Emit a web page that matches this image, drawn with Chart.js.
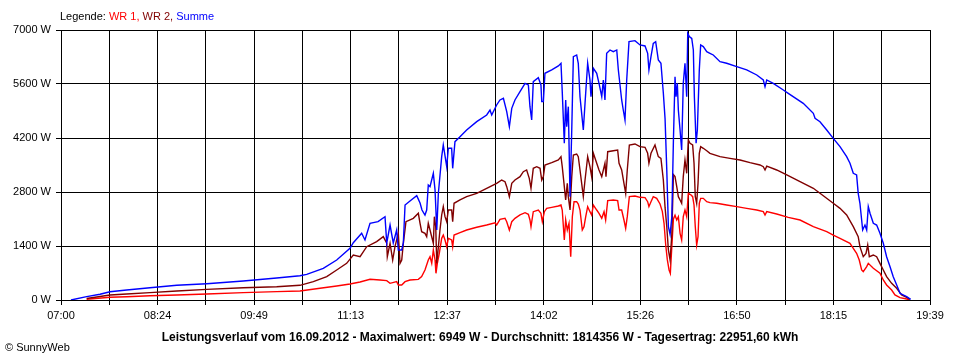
<!DOCTYPE html>
<html>
<head>
<meta charset="utf-8">
<script src="https://cdn.jsdelivr.net/npm/chart.js@4.4.0/dist/chart.umd.min.js"></script>
<style>
  html, body { margin: 0; padding: 0; background: #fff; }
  #wrap { position: relative; width: 960px; height: 360px; font-family: "Liberation Sans", Arial, sans-serif; }
  #c { position: absolute; left: 0; top: 0; }
  #legend { position: absolute; left: 60px; top: 10px; font-size: 11px; color: #000; white-space: nowrap; }
  #title { position: absolute; left: 0; width: 960px; top: 330px; text-align: center; font-size: 12px; font-weight: bold; color: #000; white-space: nowrap; }
  #copy { position: absolute; left: 5px; top: 341px; font-size: 11px; color: #000; white-space: nowrap; }
</style>
</head>
<body>
<div id="wrap">
  <canvas id="c" width="960" height="360"></canvas>
  <div id="legend">Legende: <span style="color:#ff0000">WR 1,</span> <span style="color:#800000">WR 2,</span> <span style="color:#0000ff">Summe</span></div>
  <div id="title">Leistungsverlauf vom 16.09.2012 - Maximalwert: 6949 W - Durchschnitt: 1814356 W - Tagesertrag: 22951,60 kWh</div>
  <div id="copy">© SunnyWeb</div>
</div>
<script>
// time axis: minutes after 07:00
const timeLabels = ["07:00","08:24","09:49","11:13","12:37","14:02","15:26","16:50","18:15","19:39"];
const yTicks = [0, 1400, 2800, 4200, 5600, 7000];

const wr1Min = [22.4,42.8,57.4,77.7,101.1,127.3,159.2,188.4,208.7,226.2,240.8,252.4,261.2,269.9,278.6,284.5,287.4,293.2,294.6,297.6,300.5,304.8,312.1,315.0,317.9,320.8,322.3,323.8,325.2,326.7,327.5,328.7,330.4,332.5,333.9,335.4,336.9,338.3,341.2,342.1,343.3,348.5,354.3,363.1,371.8,379.1,380.5,383.4,387.8,389.3,391.6,393.7,396.5,400.9,405.3,408.2,409.6,410.5,412.5,416.9,419.2,420.4,422.2,424.2,428.6,434.4,436.7,437.8,439.6,440.8,442.2,443.7,445.2,446.6,448.1,450.4,451.8,453.3,455.3,456.8,458.3,460.0,462.0,463.5,465.0,467.9,469.9,472.3,474.3,475.7,477.5,482.4,486.2,487.4,489.7,491.7,493.2,494.6,496.4,501.3,505.7,510.1,512.4,513.5,515.3,517.3,520.3,523.2,525.2,526.7,528.2,529.6,531.1,532.2,533.5,534.9,536.3,537.8,539.2,540.7,542.1,543.5,545.0,546.5,547.9,550.3,551.7,552.9,554.0,555.2,556.4,557.5,558.7,561.0,564.0,566.8,572.7,581.4,590.2,598.9,607.7,613.4,614.9,616.4,625.1,635.2,645.5,657.1,668.8,674.5,680.4,689.1,692.0,694.9,697.2,699.3,700.7,703.7,705.1,709.5,715.3,718.2,721.1,725.5,728.4,732.8,738.6,740.9];
const wr1 = [20,70,86,112,130,156,190,216,233,303,363,415,467,536,519,501,432,475,389,389,475,519,536,605,778,1037,1123,951,1296,1037,692,951,1210,1599,1685,1556,1382,1599,1556,1382,1685,1745,1815,1885,1944,2004,1944,2092,2118,2030,1815,2030,2118,2204,2264,2221,2074,1901,2290,2333,2248,2030,2290,2377,2403,2437,2463,2333,1556,2074,1815,1988,1123,2160,2549,2549,2489,2333,1815,1901,2160,2420,2290,2204,2463,2333,2248,2118,2290,2074,2575,2593,2575,2333,2333,2074,1859,2160,2679,2696,2662,2653,2549,2420,2549,2679,2636,2490,2300,1988,1420,1040,778,692,1382,2100,2200,2074,2160,1729,1556,2160,2333,2160,2766,2722,2679,2463,1901,1426,1642,2507,2636,2636,2549,2523,2507,2463,2420,2377,2333,2290,2204,2290,2230,2143,2074,1901,1771,1685,1599,1470,1340,1210,1037,778,734,864,951,821,692,519,389,259,130,60,26,0];

const wr2Min = [22.4,42.8,57.4,77.7,101.1,127.3,159.2,188.4,208.7,220.4,232.1,240.8,249.5,255.3,261.2,267.0,275.7,281.5,284.5,285.0,287.4,289.7,291.7,294.6,296.1,297.6,299.0,301.3,307.7,312.1,313.6,315.0,317.9,319.4,320.8,322.3,325.2,326.1,327.3,328.2,329.6,331.0,332.5,333.9,335.4,336.9,338.3,341.2,342.1,343.3,348.5,354.3,363.1,371.8,380.5,384.9,387.8,389.3,391.6,393.7,396.5,400.9,403.8,406.7,409.0,410.5,412.5,415.5,418.4,419.9,421.3,422.7,428.6,434.4,436.7,437.8,439.6,440.8,442.2,443.1,444.6,446.1,447.5,450.4,451.8,453.3,456.2,457.7,460.0,462.0,463.5,465.0,467.9,469.9,472.3,475.1,476.0,477.5,482.4,486.2,487.4,489.7,491.7,493.2,494.6,496.4,501.3,505.7,510.1,512.4,513.5,515.3,518.8,521.7,524.0,526.1,527.6,529.1,530.5,532.0,533.5,534.9,536.3,537.8,539.2,540.7,542.1,543.5,545.0,546.5,547.9,549.4,551.7,552.9,554.0,555.2,556.4,557.5,558.7,561.0,564.0,566.8,575.6,584.3,593.1,601.8,610.5,613.4,614.9,616.4,625.1,633.9,645.5,657.1,662.9,674.5,680.4,686.2,692.0,696.3,697.8,700.7,703.1,704.6,706.0,709.5,712.4,715.3,718.2,721.1,725.5,729.9,734.2,738.6,741.5];
const wr2 = [40,130,156,190,233,276,319,345,381,475,605,778,951,1167,1123,1382,1512,1642,1470,1123,1470,1037,1382,1729,951,1037,1470,2030,2118,2248,1988,1771,1729,1642,1988,1815,1470,2160,1901,951,1382,1815,2204,2420,2160,2030,2333,2333,2030,2507,2593,2679,2766,2896,3025,3111,3068,2938,2679,3025,3111,3198,3327,3371,3155,2896,3414,3456,3414,3111,3198,3500,3560,3630,3716,3456,2938,2593,3025,2679,2333,3198,3759,3786,3716,3371,2679,3111,3716,3456,3198,3803,3544,3371,3198,3544,3198,3845,3871,3889,3544,3371,3025,2766,3371,4019,4045,3975,3958,3803,3544,3803,4019,3716,3673,3111,2400,1900,1300,1037,1700,3250,3200,2938,2679,2593,2507,3198,3630,3285,4149,4063,4019,3544,2679,2507,3025,3803,3975,3933,3871,3803,3716,3673,3630,3560,3500,3456,3371,3470,3371,3241,3068,2896,2766,2507,2377,2204,1901,1642,1382,1123,1210,1426,1123,1167,1123,951,778,605,432,303,130,70,18];

const sumMin = [8.7,22.4,34.1,42.8,57.4,77.7,101.1,127.3,159.2,188.4,208.7,214.6,229.1,240.8,252.4,255.3,262.6,265.5,269.9,276.9,283.0,284.5,287.4,290.2,293.2,294.6,297.6,299.0,300.5,304.8,310.7,313.6,315.3,317.9,319.4,320.8,322.3,325.2,326.7,328.2,329.6,332.5,333.9,336.9,338.3,341.2,342.1,344.1,348.5,354.3,363.1,371.8,374.7,376.2,380.5,383.4,386.4,389.3,391.6,393.7,396.5,400.9,405.3,408.2,409.6,411.1,412.5,416.9,419.2,419.9,421.3,422.7,428.6,434.4,436.7,437.8,439.6,440.8,441.7,443.1,444.6,446.1,447.5,450.4,451.8,453.3,456.2,457.7,460.0,462.0,462.9,465.0,467.9,469.9,472.3,473.7,475.1,476.6,479.5,482.4,485.4,486.8,489.7,491.1,492.6,494.1,496.1,501.3,505.7,510.1,512.4,513.5,515.3,517.3,519.4,521.7,524.0,526.1,527.6,529.1,530.5,532.0,533.5,534.9,536.3,537.2,538.3,539.2,540.7,542.1,543.5,545.0,546.5,547.4,548.8,550.9,552.3,553.2,554.7,555.8,557.5,558.7,561.0,564.0,566.8,569.7,575.6,581.4,590.2,598.9,607.7,613.4,614.9,616.4,622.1,630.9,635.2,648.3,657.1,658.6,662.9,668.8,674.5,680.4,686.2,689.1,692.0,694.9,696.3,697.8,700.2,702.2,703.7,705.1,706.6,709.5,712.4,715.3,718.2,721.1,724.1,726.9,729.9,732.8,738.6,742.1];
const summe = [0,86,148,215,259,319,381,423,493,570,630,666,822,1037,1340,1486,1729,1556,1988,2031,2160,1478,1944,1478,1815,1296,1296,1478,2463,2567,2704,2515,2333,2204,2333,2982,2938,3285,2852,1815,2766,3716,4019,3456,3933,3933,3414,4105,4234,4408,4623,4797,4926,4797,5056,5186,5229,4882,4494,4969,5186,5401,5618,5575,5012,4667,5661,5764,5575,5142,5142,5878,5964,6068,6137,5401,4063,5186,4494,5012,2679,4408,6309,6353,6137,5272,4408,5099,6137,5704,5272,6007,5878,5618,5272,5704,5186,6396,6482,6439,6482,5964,5186,4926,4667,5704,6698,6724,6612,6586,6396,5964,6309,6655,6698,6223,6137,5359,4700,3371,1900,1700,2152,4149,5790,5272,5618,4926,4408,3889,5618,6137,5272,6914,6827,6784,6482,5272,4063,4408,5964,6612,6569,6439,6396,6353,6180,6137,6050,5964,5834,5704,5531,5704,5618,5445,5359,5099,4840,4710,4623,4408,4192,3975,3716,3544,3285,3241,2766,2507,1815,1944,1815,2420,2248,1988,1944,1729,1470,1123,864,605,389,173,86,18];

function pts(xs, ys) { return xs.map((x, i) => ({ x: x, y: ys[i] })); }

const X_MAX = 759;
const X_STEPS = 18;
const fontSpec = { family: '"Liberation Sans", Arial, sans-serif', size: 11 };

new Chart(document.getElementById('c'), {
  type: 'line',
  data: {
    datasets: [
      { label: 'Summe', data: pts(sumMin, summe), borderColor: '#0000ff', order: 0 },
      { label: 'WR 2', data: pts(wr2Min, wr2), borderColor: '#800000', order: 1 },
      { label: 'WR 1', data: pts(wr1Min, wr1), borderColor: '#ff0000', order: 2 }
    ]
  },
  options: {
    responsive: false,
    animation: false,
    events: [],
    layout: { padding: { left: 0, top: 30, right: 30, bottom: 36 } },
    elements: {
      line: { borderWidth: 1.4, tension: 0, fill: false },
      point: { radius: 0 }
    },
    plugins: { legend: { display: false }, title: { display: false }, tooltip: { enabled: false } },
    scales: {
      x: {
        type: 'linear', min: 0, max: X_MAX,
        afterBuildTicks: (s) => {
          const t = [];
          for (let i = 0; i <= X_STEPS; i++) t.push({ value: i * X_MAX / X_STEPS });
          s.ticks = t;
        },
        afterFit: (s) => { s.height = 24; },
        grid: { color: '#000', lineWidth: 1, tickLength: 5, drawTicks: true },
        border: { color: '#000', width: 1 },
        ticks: {
          autoSkip: false, maxRotation: 0, minRotation: 0, padding: 4, color: '#000', font: fontSpec,
          callback: (v, i) => (i % 2 === 0 ? timeLabels[i / 2] : '')
        }
      },
      y: {
        min: 0, max: 7000,
        afterBuildTicks: (s) => { s.ticks = yTicks.map(v => ({ value: v })); },
        afterFit: (s) => { s.width = 61; },
        grid: { color: '#000', lineWidth: 1, tickLength: 5, drawTicks: true },
        border: { color: '#000', width: 1 },
        ticks: { padding: 5, color: '#000', font: fontSpec, callback: (v) => v + ' W' }
      }
    }
  }
});
</script>
</body>
</html>
